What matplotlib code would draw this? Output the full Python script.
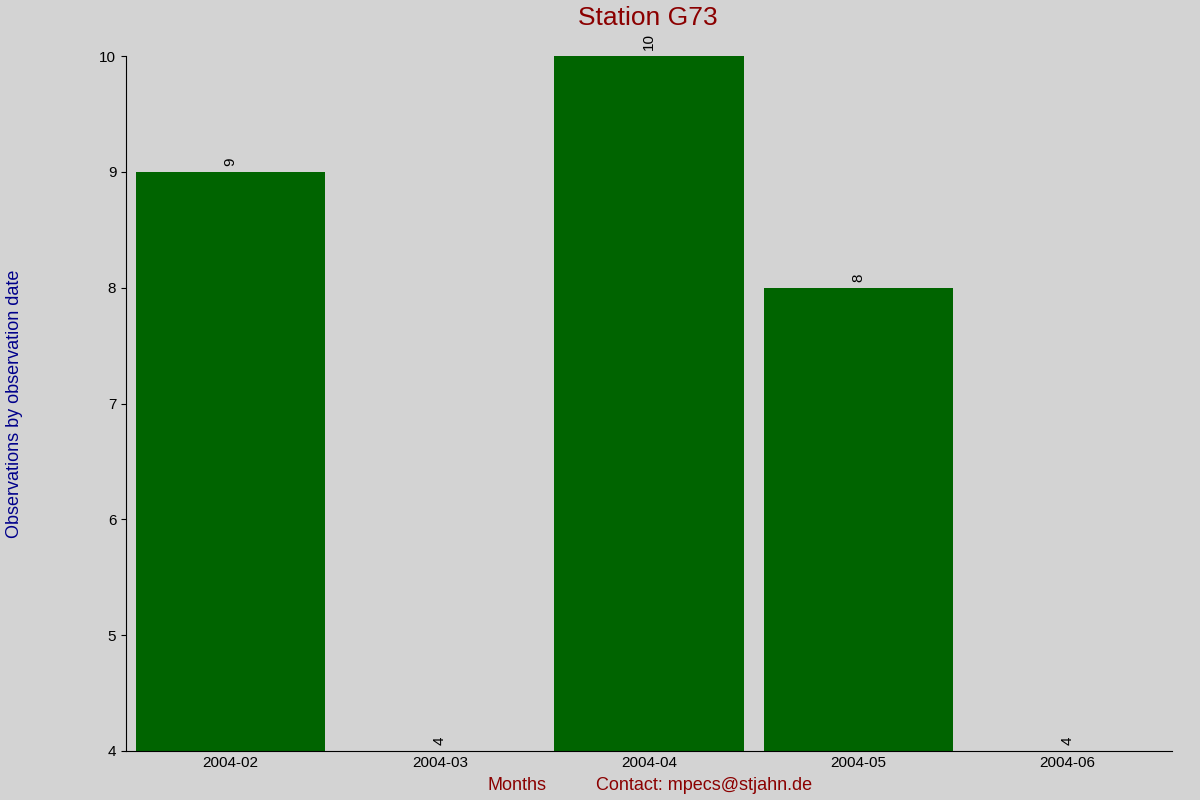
import matplotlib
matplotlib.use("Agg")
import matplotlib.pyplot as plt

months = ["2004-02", "2004-03", "2004-04", "2004-05", "2004-06"]
counts = [9, 4, 10, 8, 4]

plt.rcParams['font.family'] = ['Liberation Sans', 'DejaVu Sans']
fig = plt.figure(figsize=(12, 8), dpi=100, facecolor='#d3d3d3')
ax = fig.add_axes([0.105, 0.06125, 0.8717, 0.86875])
ax.set_facecolor('#d3d3d3')
x = list(range(len(months)))
ax.bar(x, counts, width=0.905, color='#006400')
for xi, v in zip(x, counts):
    ax.text(xi, v + 0.05, str(v), rotation=90, ha='center', va='bottom', fontsize=11)
ax.set_xlim(-0.5, 4.5)
ax.set_ylim(4, 10)
ax.set_xticks(x)
ax.set_xticklabels(months, fontsize=11)
ax.tick_params(axis='x', length=0)
ax.tick_params(axis='y', labelsize=11)
for s in ['top', 'right']:
    ax.spines[s].set_visible(False)
fig.text(0.54, 1 - 18/800, "Station G73", color='#8b0000', fontsize=19, ha='center', va='center')
ax.set_ylabel("Observations by observation date", color='#00008b', fontsize=13, labelpad=55)
fig.text(517/1200, 1 - 786/800, "Months", color='#8b0000', fontsize=13, ha='center', va='center')
fig.text(704/1200, 1 - 786/800, "Contact: mpecs@stjahn.de", color='#8b0000', fontsize=13, ha='center', va='center')
fig.savefig("out.png", dpi=100, facecolor=fig.get_facecolor())
